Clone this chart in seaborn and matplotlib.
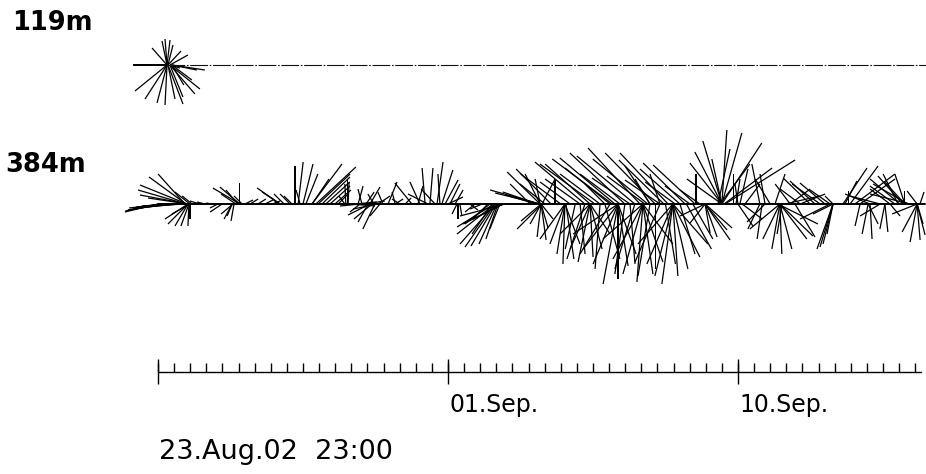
import numpy as np
import pandas as pd
import matplotlib
matplotlib.use("Agg")
import matplotlib.pyplot as plt
import seaborn as sns

# ---------------- data ----------------
# time in days from the first axis tick, current components in mm/s (east, north)
t384 = [0.00, 0.06, 0.16, 0.25, 0.37, 0.50, 0.62, 0.31, 0.68, 0.84,
        0.84, 0.87, 0.90, 0.87, 0.93, 0.93, 0.99, 1.06, 0.93, 0.93,
        0.96, 0.96, 0.93, 0.99, 0.99, 1.30, 1.46, 1.68, 1.99, 1.86,
        2.54, 2.54, 2.48, 2.54, 2.42, 2.61, 2.30, 2.30, 2.33, 2.36,
        2.70, 2.86, 3.10, 3.32, 3.54, 3.79, 3.79, 3.91, 3.72, 4.16,
        4.25, 4.35, 4.50, 4.59, 4.41, 4.10, 4.78, 4.90, 4.97, 5.09,
        5.21, 5.34, 5.49, 4.78, 5.59, 5.87, 5.90, 5.83, 5.80, 5.96,
        6.11, 6.27, 6.42, 6.21, 6.33, 6.46, 6.58, 6.70, 6.83, 7.14,
        6.98, 6.73, 6.64, 6.58, 6.89, 6.52, 6.27, 6.83, 7.36, 7.51,
        7.67, 7.36, 7.88, 8.13, 8.29, 8.44, 8.66, 8.81, 8.91, 9.00,
        8.60, 8.75, 9.06, 9.22, 8.07, 8.38, 9.31, 9.37, 9.28, 10.46,
        10.46, 10.49, 10.52, 10.46, 10.43, 10.55, 10.61, 10.71, 10.71, 10.77,
        10.30, 10.37, 10.24, 9.84, 10.06, 9.68, 11.86, 11.86, 11.79, 11.73,
        11.86, 11.86, 11.86, 11.92, 12.32, 11.55, 12.01, 11.89, 11.89, 11.89,
        11.89, 11.89, 11.89, 11.92, 14.18, 14.49, 14.96, 15.43, 15.83, 16.36,
        16.67, 13.72, 14.03, 14.34, 14.65, 15.11, 15.58, 16.05, 16.51, 16.82,
        13.10, 12.79, 13.41, 13.87, 15.27, 15.58, 15.27, 17.50, 17.50, 17.50,
        17.50, 17.50, 17.50, 17.60, 17.57, 17.50, 17.50, 17.44, 16.70, 17.38,
        17.85, 17.94, 18.00, 18.06, 18.22, 12.63, 12.63, 12.63, 12.66, 12.63,
        12.63, 13.41, 13.41, 13.41, 13.41, 13.41, 13.41, 14.28, 14.28, 14.28,
        14.28, 14.28, 14.28, 14.28, 15.05, 15.05, 15.05, 15.05, 15.05, 15.05,
        15.05, 15.98, 15.98, 15.98, 15.98, 15.98, 15.98, 15.98, 15.98, 16.98,
        16.98, 16.98, 16.98, 16.98, 16.98, 16.98, 18.00, 18.13, 20.24, 20.39,
        20.55, 20.70, 20.86, 20.95, 19.93, 19.62, 19.00, 18.84, 18.68, 19.15,
        19.62, 19.93, 19.46, 19.30, 19.30, 19.30, 19.30, 19.30, 19.30, 19.30,
        19.37, 19.24, 18.68, 18.75, 18.84, 20.95, 20.95, 20.95, 20.95, 20.86,
        20.95, 19.77, 21.26, 21.48, 21.32, 21.42, 21.63, 21.79, 23.18, 23.18,
        23.03, 23.12, 23.18, 23.28, 22.87, 22.72, 22.97, 23.34, 22.10, 22.41,
        22.04, 22.10, 22.04, 21.79, 22.56, 22.56, 22.41, 22.72, 23.56, 23.56,
        23.56, 23.56, 23.56, 23.56, 23.56, 23.65,
        12.95, 13.10, 13.25, 13.72, 13.87, 14.03, 14.49, 14.65, 14.80, 15.27,
        15.43, 15.58, 15.75, 16.20, 16.40, 16.60, 13.25, 13.56, 14.10, 14.80,
        15.20, 15.70, 16.20, 12.50, 12.20, 0.10, 0.20, 0.45, 0.55]
u384 = [-33, -32, -34, -30, -28, -22, -20, -40, -45, -40,
        -27, -37, -47, -48, -48, -40, -15, -10, -20, -13,
        -8, -1, -23, -18, 0, -10, -8, -6, -12, -8,
        -27, -20, -12, 0, -15, -8, -8, -5, -12, -3,
        8, 8, 8, 8, 8, -23, -18, -10, -6, -8,
        0, 5, 10, 12, -4, -10, 30, 40, 32, 28,
        24, 20, 16, 17, 10, 0, 1, -1, -6, 25,
        22, -20, 20, 5, -4, 8, 10, -6, 12, 9,
        -5, -12, -18, -22, -10, -10, -10, -25, 8, -8,
        6, -3, -17, -10, -3, 3, 6, 11, 13, 15,
        -14, -2, 10, 8, 5, -20, 0, 2, -5, -35,
        -30, -25, -18, -38, -37, -12, -10, -40, -30, -45,
        -25, -20, -15, -10, -12, 8, -50, -45, -35, -30,
        -33, -15, -5, 13, 0, -20, -25, -11, -4, 5,
        7, -20, 12, -25, -55, -55, -52, -50, -48, -42,
        -42, -40, -45, -40, -38, -38, -35, -30, -25, -20,
        -35, -30, -45, -20, -15, -10, -25, 5, 20, 40,
        -19, -32, -35, 70, 48, -27, -10, 30, 0, 12,
        0, 4, -3, 8, 15, -15, -8, -2, 8, -25,
        15, -20, -12, 3, 12, -30, 20, -15, 0, -25,
        10, -35, 18, -45, -6, -20, 10, -30, 20, 30,
        -40, -11, 5, 27, -18, -26, 15, 35, -35, 25,
        22, 12, 5, -15, 27, -25, 15, 20, -27, -25,
        -28, -25, -20, -8, -20, -15, -15, -5, -8, 10,
        20, 25, 35, -17, -8, 2, 12, 27, 33, -30,
        -5, 40, -12, -5, -18, -13, -10, -16, -6, -30,
        -20, 20, 24, 28, 12, 0, 40, 35, -10, 0,
        -30, -25, -20, -35, -25, -20, -15, -40, -25, -30,
        -6, 2, 10, -5, -5, 3, -20, 10, -15, -7,
        3, 8, -10, -25, 6, 4,
        -10, 5, -18, -5, 15, -30, -10, 5, -20, -12,
        0, -25, 10, 15, 25, 20, -50, -55, -60, -58,
        -55, -45, -40, -40, -35, -36, -31, -35, -38]
v384 = [-8, -6, -4, -3, -2, -2, -1, -6, -4, -2,
        30, 27, 19, 14, 9, 6, 12, 8, -20, -22,
        -22, -22, -15, -10, -15, 3, 2, 1, -8, -4,
        16, 17, 14, 21, 10, 8, -15, -12, -10, -17,
        4, 5, 5, 4, 3, 16, 12, 10, 6, 8,
        38, 42, 40, 30, 14, 10, 40, 37, 30, 27,
        22, 18, 14, 25, 10, 25, 22, 20, 8, -2,
        2, -2, 3, 18, 15, 12, 17, 10, 8, 22,
        12, -25, -15, -11, -12, -18, -8, -5, 5, 5,
        6, 12, 21, 22, 36, 36, 42, 34, 24, 7,
        15, 30, 20, 14, 18, 10, -15, -12, -10, -40,
        -43, -42, -40, -30, -23, -35, -25, -20, -15, -12,
        -20, -30, -15, -8, -5, -6, 14, 11, 12, 9,
        32, 30, 25, 25, 25, 20, 20, -20, -33, -36,
        -24, -17, -15, -25, 46, 51, 56, 51, 51, 41,
        39, 30, 36, 30, 26, 28, 24, 22, 18, 14,
        25, 22, 40, 20, 25, 30, 38, 74, 71, 61,
        63, 41, 25, 44, 36, 52, 45, 40, 30, 55,
        30, 25, 20, 35, 20, -40, -50, -60, -55, -35,
        -40, -45, -58, -53, -45, -30, -30, -80, -75, -60,
        -62, -45, -50, -30, -78, -70, -70, -55, -58, -40,
        -35, -80, -72, -53, -72, -60, -65, -40, -40, -36,
        -26, -33, -29, -19, -24, -12, -22, -15, 26, 23,
        20, 21, 14, 8, 15, 20, 25, 30, 40, 30,
        15, 10, 8, -35, -45, -50, -45, -35, -32, -25,
        -30, -20, -25, -35, -18, -43, -40, -45, -30, -15,
        -10, -33, 36, 38, 23, 13, 30, 25, 30, 13,
        25, 28, 22, 20, 18, 15, 30, 10, 10, 8,
        -30, -35, -20, -22, -25, -28, -12, -12, -28, -38,
        -36, -31, 13, -10, -20, 12,
        -45, -50, -55, -65, -55, -50, -70, -60, -65, -72,
        -65, -58, -60, -50, -45, -35, 42, 40, 45, 48,
        45, 44, 35, 30, 35, -7, -5, -3, -4]

t119 = [0.28, 0.28, 0.28, 0.28, 0.31, 0.28, 0.31, 0.37, 0.37, 0.43, 0.28,
        0.28, 0.28, 0.28, 0.31, 0.31, 0.37, 0.37, 0.43, 0.43, 0.37, 0.43]
u119 = [-34, -2, 3, -5, 5, -15, 13, 18, 10, 25, -32,
        -22, -10, -2, 7, 15, 25, 30, 12, 20, 13, 33]
v119 = [0, 26, 25, 24, 20, 17, 14, 10, -3, -5, -26,
        -34, -38, -40, -34, -39, -29, -24, -20, -15, -32, -5]

depth_labels = ["119m", "384m"]
major_ticks = [0, 9, 18]
major_labels = ["01.Sep.", "10.Sep."]
start_label = "23.Aug.02  23:00"
t_end = 23.68          # end of the time axis (days)
tick_step = 0.5        # minor tick every 12 h

# ---------------- layout ----------------
W, H = 926, 474
px_per_day = 32.22
x0 = 158
sns.set_theme(style="white")
plt.rcParams["font.family"] = ["DejaVu Sans"]
plt.rcParams["text.color"] = "black"

fig = plt.figure(figsize=(W / 100, H / 100), dpi=100)
ax = fig.add_axes([0, 0, 1, 1])
ax.set_xlim(-x0 / px_per_day, (W - x0) / px_per_day)
ax.set_ylim(0, H)
ax.set_axis_off()

y119 = H - 65
y384 = H - 204
yaxis = H - 372

# baselines
base = pd.DataFrame({"t": [0.0, 23.80], "y": [y384, y384]})
sns.lineplot(data=base, x="t", y="y", color="black", lw=1.4, ax=ax, legend=False)
ax.plot([0.28, 23.90], [y119, y119], color="#111111", lw=0.8,
        linestyle=(0, (16, 1.5, 1.5, 1.5)))

qkw = dict(angles="uv", scale_units="y", scale=1, pivot="tail",
           headwidth=0, headlength=0, headaxislength=0,
           units="dots", width=1.25, color="black", minlength=0.1)
ax.quiver(t384, np.full(len(t384), y384), u384, v384, **qkw)
ax.quiver(t119, np.full(len(t119), y119), u119, v119, **qkw)

# time axis
ax.plot([0, t_end], [yaxis, yaxis], color="black", lw=1.0)
minor = np.arange(0, t_end, tick_step)
ax.vlines(minor, yaxis, yaxis + 9.5, color="black", lw=1.0)
ax.vlines(major_ticks, yaxis - 11.5, yaxis + 13, color="black", lw=1.0)
for t, lab in zip(major_ticks[1:], major_labels):
    ax.text(t + 0.05, H - 412, lab, fontsize=17, va="baseline", ha="left",
            color="black")

fig.text(159 / W, 1 - 459 / H, start_label, fontsize=19.5, va="baseline",
         ha="left", color="black")
fig.text(12 / W, 1 - 30 / H, depth_labels[0], fontsize=18.5, fontweight="bold",
         va="baseline", ha="left", color="black")
fig.text(5 / W, 1 - 172 / H, depth_labels[1], fontsize=18.5, fontweight="bold",
         va="baseline", ha="left", color="black")

fig.savefig("out.png", dpi=100)
